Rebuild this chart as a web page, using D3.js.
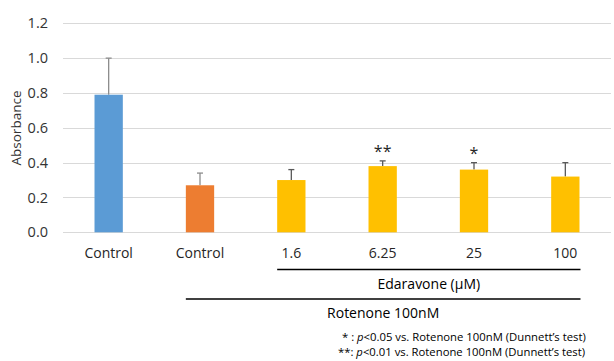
<!DOCTYPE html>
<html>
<head>
<meta charset="utf-8">
<script src="https://cdn.jsdelivr.net/npm/d3@7"></script>
<style>
  html, body { margin: 0; padding: 0; background: #fff; }
  svg { display: block; font-family: "Open Sans", "Noto Sans", sans-serif; }
</style>
</head>
<body>
<svg id="chart" width="614" height="361"></svg>
<script>
// Absorbance per group (mean and upper SD)
const groupIds   = ["ctrl", "rot", "e1.6", "e6.25", "e25", "e100"];
const groupLabels = ["Control", "Control", "1.6", "6.25", "25", "100"];
const means      = [0.79, 0.27, 0.30, 0.38, 0.36, 0.32];
const errors     = [0.21, 0.07, 0.06, 0.03, 0.04, 0.08];
const marks      = ["", "", "", "**", "*", ""];
const yTicks     = [0, 0.2, 0.4, 0.6, 0.8, 1.0, 1.2];
const fills      = ["#5B9BD5", "#ED7D31", "#FFC000", "#FFC000", "#FFC000", "#FFC000"];
const errColors  = ["#8c8c8c", "#8c8c8c", "#595959", "#595959", "#595959", "#595959"];
const footnotes  = [
  { mark: "*", p: "p", rest: "<0.05 vs. Rotenone 100nM (Dunnett\u2019s test)" },
  { mark: "**", p: "p", rest: "<0.01 vs. Rotenone 100nM (Dunnett\u2019s test)" }
];

const svg = d3.select("#chart");

const x = d3.scaleBand()
  .domain(groupIds)
  .range([63, 611])
  .paddingInner(0.69)
  .paddingOuter(0.345);

const y = d3.scaleLinear()
  .domain([0, 1.2])
  .range([232.3, 23.3]);

// horizontal gridlines
svg.append("g")
  .selectAll("line")
  .data(yTicks)
  .join("line")
  .attr("x1", 63).attr("x2", 611)
  .attr("y1", d => Math.round(y(d)) + 0.5)
  .attr("y2", d => Math.round(y(d)) + 0.5)
  .attr("stroke", "#d9d9d9")
  .attr("stroke-width", 1);

// y axis tick labels
const yAxis = d3.axisLeft(y).tickValues(yTicks).tickFormat(d3.format(".1f")).tickSize(0).tickPadding(0);
const yg = svg.append("g").attr("transform", "translate(48,0)").call(yAxis);
yg.select(".domain").remove();
yg.selectAll("text")
  .attr("font-size", 14.5)
  .attr("fill", "#333")
  .attr("font-family", "Open Sans, sans-serif");

// y axis title
svg.append("text")
  .attr("transform", "translate(21,128) rotate(-90)")
  .attr("text-anchor", "middle")
  .attr("font-size", 13.5)
  .attr("fill", "#333")
  .text("Absorbance");

const groups = groupIds.map((id, i) => ({
  id, label: groupLabels[i], mean: means[i], err: errors[i],
  mark: marks[i], fill: fills[i], errColor: errColors[i]
}));

// error bars (upper only)
const eb = svg.append("g").selectAll("g").data(groups).join("g");
eb.append("line")
  .attr("x1", d => x(d.id) + x.bandwidth() / 2)
  .attr("x2", d => x(d.id) + x.bandwidth() / 2)
  .attr("y1", d => y(d.mean))
  .attr("y2", d => y(d.mean + d.err))
  .attr("stroke", d => d.errColor)
  .attr("stroke-width", 1.3);
eb.append("line")
  .attr("x1", d => x(d.id) + x.bandwidth() / 2 - 3)
  .attr("x2", d => x(d.id) + x.bandwidth() / 2 + 3)
  .attr("y1", d => y(d.mean + d.err))
  .attr("y2", d => y(d.mean + d.err))
  .attr("stroke", d => d.errColor)
  .attr("stroke-width", 1.3);

// bars
svg.append("g")
  .selectAll("rect")
  .data(groups)
  .join("rect")
  .attr("x", d => x(d.id))
  .attr("width", x.bandwidth())
  .attr("y", d => y(d.mean))
  .attr("height", d => y(0) - y(d.mean))
  .attr("fill", d => d.fill);

// significance marks
svg.append("g")
  .selectAll("text")
  .data(groups.filter(d => d.mark))
  .join("text")
  .attr("x", d => x(d.id) + x.bandwidth() / 2)
  .attr("y", d => y(d.mean + d.err) - 4)
  .attr("text-anchor", "middle")
  .attr("font-size", 16)
  .attr("fill", "#262626")
  .text(d => d.mark);

// category labels
svg.append("g")
  .selectAll("text")
  .data(groups)
  .join("text")
  .attr("x", d => x(d.id) + x.bandwidth() / 2)
  .attr("y", 258)
  .attr("text-anchor", "middle")
  .attr("font-size", 14)
  .attr("fill", "#262626")
  .text(d => d.label);

// treatment brackets
const edaStart = x("e1.6");
const edaEnd = x("e100") + x.bandwidth() + 1;
const rotStart = x("rot");
svg.append("line")
  .attr("x1", edaStart).attr("x2", edaEnd)
  .attr("y1", 269.5).attr("y2", 269.5)
  .attr("stroke", "#000").attr("stroke-width", 1.5);
svg.append("text")
  .attr("x", (edaStart + edaEnd) / 2)
  .attr("y", 289)
  .attr("text-anchor", "middle")
  .attr("font-size", 14)
  .attr("fill", "#000")
  .text("Edaravone (\u03bcM)");
svg.append("line")
  .attr("x1", rotStart).attr("x2", edaEnd)
  .attr("y1", 299).attr("y2", 299)
  .attr("stroke", "#000").attr("stroke-width", 1.5);
svg.append("text")
  .attr("x", (rotStart + edaEnd) / 2)
  .attr("y", 318)
  .attr("text-anchor", "middle")
  .attr("font-size", 14)
  .attr("fill", "#000")
  .text("Rotenone 100nM");

// footnotes
const fn = svg.append("g").selectAll("text").data(footnotes).join("text")
  .attr("x", (d, i) => i === 0 ? 342 : 338)
  .attr("y", (d, i) => 340.5 + i * 15.5)
  .attr("font-size", 11.3)
  .attr("fill", "#000");
fn.append("tspan").text(d => d.mark + (d.mark.length === 1 ? " " : "") + ":");
fn.append("tspan").attr("font-style", "italic").text(d => " " + d.p);
fn.append("tspan").text(d => d.rest);
</script>
</body>
</html>
